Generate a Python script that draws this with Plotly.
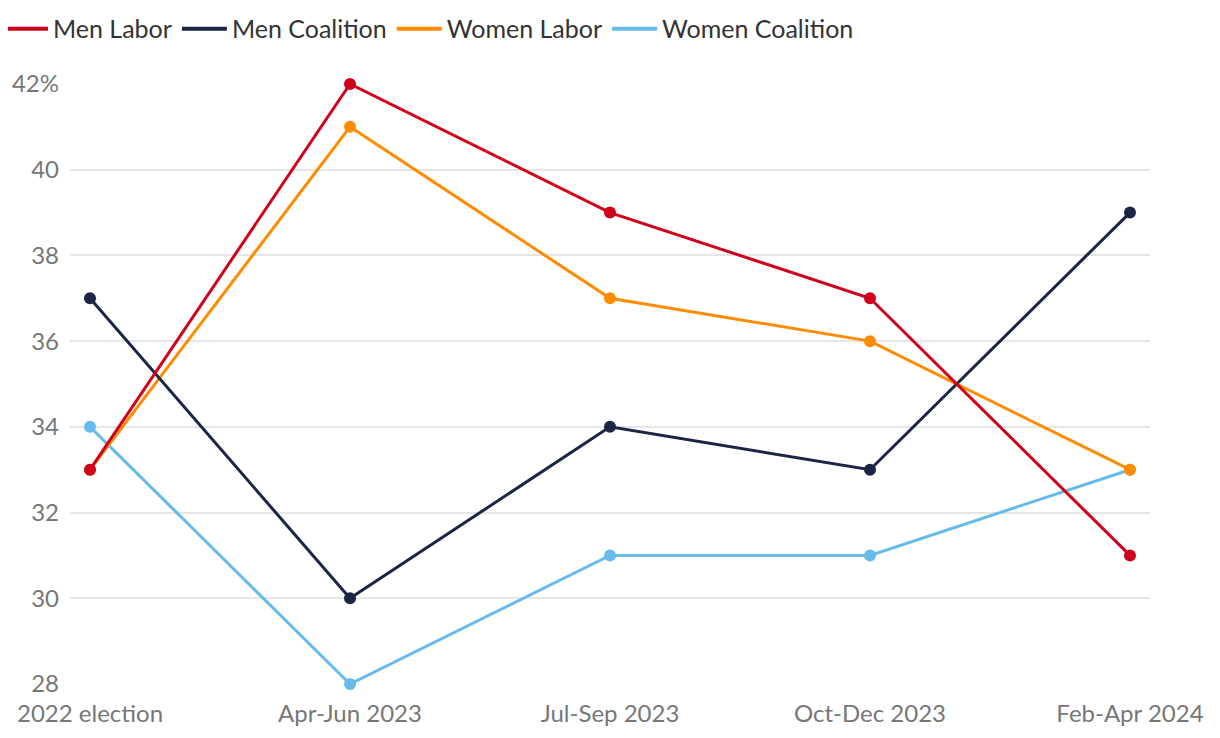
import plotly.graph_objects as go

periods = ["2022 election", "Apr-Jun 2023", "Jul-Sep 2023", "Oct-Dec 2023", "Feb-Apr 2024"]
men_labor = [33, 42, 39, 37, 31]
men_coalition = [37, 30, 34, 33, 39]
women_labor = [33, 41, 37, 36, 33]
women_coalition = [34, 28, 31, 31, 33]

y_ticks = [28, 30, 32, 34, 36, 38, 40, 42]
y_labels = ["28", "30", "32", "34", "36", "38", "40", "42%"]

series = [
    ("Men Labor", men_labor, "#d0021b"),
    ("Men Coalition", men_coalition, "#1b2545"),
    ("Women Labor", women_labor, "#ff8c00"),
    ("Women Coalition", women_coalition, "#66bbea"),
]

fig = go.Figure()
# legend entries: plain line symbols only
for name, vals, col in series:
    fig.add_trace(go.Scatter(x=[None], y=[None], name=name, mode="lines",
                             line=dict(color=col, width=4), hoverinfo="skip"))
# draw in reverse so men sit on top
for name, vals, col in reversed(series):
    fig.add_trace(go.Scatter(
        x=list(range(len(periods))), y=vals, name=name, mode="lines+markers",
        line=dict(color=col, width=3), marker=dict(color=col, size=12),
        cliponaxis=False, showlegend=False,
    ))

# page body adds 8px, so the figure is sized to sit inside the window
fig.update_layout(
    width=1204, height=722,
    margin=dict(l=62, r=62, t=76, b=46, autoexpand=False),
    paper_bgcolor="white", plot_bgcolor="white",
    font=dict(family="Lato", size=24, color="#777777"),
    showlegend=True,
    legend=dict(orientation="h", x=-0.0667, y=1.0917, xanchor="left", yanchor="middle",
                font=dict(size=25, color="#333333"), itemwidth=45),
    xaxis=dict(range=[-0.077, 4.077], tickvals=list(range(len(periods))), ticktext=periods,
               showgrid=False, zeroline=False, showline=False,
               ticks="outside", ticklen=8, tickcolor="rgba(0,0,0,0)"),
    yaxis=dict(range=[28, 42], tickvals=y_ticks, ticktext=y_labels,
               showgrid=True, gridcolor="#e6e6e6", gridwidth=2, zeroline=False,
               ticks="", ticklabelstandoff=10),
)

fig.write_html("out.html")
